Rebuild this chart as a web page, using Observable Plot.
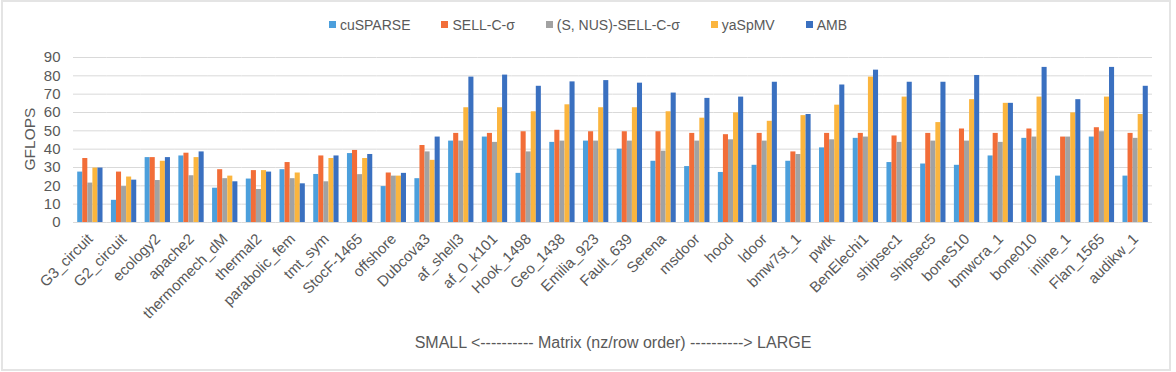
<!DOCTYPE html>
<html>
<head>
<meta charset="utf-8">
<script src="https://cdn.jsdelivr.net/npm/d3@7"></script>
<script src="https://cdn.jsdelivr.net/npm/@observablehq/plot@0.6"></script>
<style>
  html, body { margin: 0; padding: 0; background: #fff; }
  #chart {
    position: relative; width: 1176px; height: 372px; overflow: hidden;
    font-family: "Liberation Sans", Arial, sans-serif; color: #595959;
  }
  #frame {
    position: absolute; left: 1px; top: 0px; width: 1166px; height: 367px;
    border: 2px solid #e4e4e4; pointer-events: none;
  }
  #legend {
    height: 45px; display: flex; justify-content: center; align-items: center;
    gap: 31px; font-size: 14px; box-sizing: border-box; padding-top: 4px;
  }
  #legend .item { display: flex; align-items: center; gap: 4px; }
  #legend .swatch { width: 7px; height: 7px; display: inline-block; }
  #plot svg { display: block; }
  #caption {
    height: 26px; line-height: 26px; font-size: 16px; text-align: center;
    padding-left: 50px;
  }
</style>
</head>
<body>
<div id="chart">
  <div id="legend"></div>
  <div id="plot"></div>
  <div id="caption">SMALL &lt;---------- Matrix (nz/row order) ----------&gt; LARGE</div>
  <div id="frame"></div>
</div>
<script>
// Sparse matrices, ordered by nonzeros per row
const matrices = [
  "G3_circuit", "G2_circuit", "ecology2", "apache2", "thermomech_dM", "thermal2",
  "parabolic_fem", "tmt_sym", "StocF-1465", "offshore", "Dubcova3", "af_shell3",
  "af_0_k101", "Hook_1498", "Geo_1438", "Emilia_923", "Fault_639", "Serena",
  "msdoor", "hood", "ldoor", "bmw7st_1", "pwtk", "BenElechi1", "shipsec1",
  "shipsec5", "boneS10", "bmwcra_1", "bone010", "inline_1", "Flan_1565", "audikw_1"
];

const seriesNames = ["cuSPARSE", "SELL-C-σ", "(S, NUS)-SELL-C-σ", "yaSpMV", "AMB"];
const seriesColors = ["#4c9fdc", "#f26d38", "#a2a2a2", "#fbb53e", "#3a70c0"];

// SpMV throughput in GFLOPS, one value per matrix
const cuSPARSE = [27.5, 12.1, 35.4, 36.3, 18.7, 23.7, 28.8, 26.2, 37.6, 19.6, 23.9, 44.4,
  46.6, 26.8, 43.7, 44.4, 40.0, 33.4, 30.5, 27.3, 31.2, 33.4, 40.7, 45.9, 32.7,
  31.9, 31.2, 36.3, 45.9, 25.3, 46.6, 25.3];
const sellCSigma = [34.9, 27.5, 35.4, 37.8, 28.8, 28.3, 32.7, 36.3, 39.3, 27.0, 42.0, 48.6,
  48.6, 49.5, 50.3, 49.5, 49.5, 49.5, 48.6, 47.9, 48.6, 38.5, 48.6, 48.6, 47.2,
  48.6, 51.0, 48.6, 51.0, 46.6, 51.7, 48.6];
const nusSellCSigma = [21.5, 19.6, 22.9, 25.5, 23.9, 18.0, 23.9, 22.2, 26.1, 25.3, 38.5, 44.4,
  43.7, 38.5, 44.4, 44.4, 44.4, 38.9, 44.4, 45.1, 44.4, 37.1, 45.1, 46.6, 43.7,
  44.4, 44.4, 43.7, 46.6, 46.6, 49.5, 45.9];
const yaSpMV = [29.7, 24.8, 33.4, 35.4, 25.3, 28.3, 27.0, 34.9, 34.9, 25.3, 33.9, 62.6,
  62.6, 60.4, 64.2, 62.6, 62.6, 60.4, 56.9, 59.8, 55.2, 58.3, 64.0, 79.3, 68.4,
  54.5, 67.0, 65.0, 68.4, 59.8, 68.4, 58.9];
const amb = [29.7, 23.1, 35.4, 38.5, 22.2, 27.5, 21.1, 36.3, 37.1, 26.8, 46.6, 79.3,
  80.4, 74.3, 76.7, 77.4, 76.0, 70.6, 67.7, 68.4, 76.5, 58.9, 75.0, 83.1, 76.5,
  76.5, 80.2, 65.0, 84.6, 67.0, 84.6, 74.3];

const yTicks = [0, 10, 20, 30, 40, 50, 60, 70, 80, 90];

const seriesValues = [cuSPARSE, sellCSigma, nusSellCSigma, yaSpMV, amb];
const rows = [];
matrices.forEach((m, i) => {
  seriesNames.forEach((s, j) => rows.push({matrix: m, series: s, value: seriesValues[j][i]}));
});

// Legend
const legend = document.getElementById("legend");
seriesNames.forEach((s, j) => {
  const item = document.createElement("span");
  item.className = "item";
  const sw = document.createElement("span");
  sw.className = "swatch";
  sw.style.background = seriesColors[j];
  const label = document.createElement("span");
  label.textContent = s;
  item.append(sw, label);
  legend.append(item);
});

const chart = Plot.plot({
  width: 1176,
  height: 285,
  marginTop: 12,
  marginBottom: 108,
  marginLeft: 73,
  marginRight: 24,
  style: {fontFamily: "'Liberation Sans', Arial, sans-serif", fontSize: "15px", color: "#595959", background: "transparent"},
  fx: {domain: matrices, padding: 0, round: false, label: null, tickRotate: -45, tickSize: 0, tickPadding: 14},
  x: {domain: seriesNames, axis: null, paddingInner: 0, paddingOuter: 0.83, round: false},
  y: {domain: [0, 90], ticks: yTicks, label: null, tickSize: 0, tickPadding: 13},
  color: {domain: seriesNames, range: seriesColors},
  marks: [
    Plot.ruleY(yTicks, {stroke: "#d9d9d9", strokeWidth: 1}),
    Plot.barY(rows, {fx: "matrix", x: "series", y: "value", fill: "series"})
  ]
});
document.getElementById("plot").append(chart);

// Vertical axis title
const svg = d3.select(chart);
svg.append("text")
  .attr("transform", "translate(29,94) rotate(-90)")
  .attr("text-anchor", "middle")
  .attr("dominant-baseline", "central")
  .attr("fill", "#595959")
  .style("font-size", "15.5px")
  .text("GFLOPS");
</script>
</body>
</html>
